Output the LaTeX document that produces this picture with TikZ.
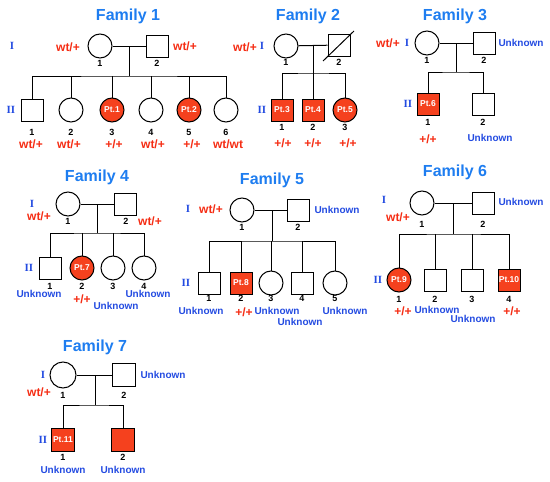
\documentclass[tikz,border=0pt]{standalone}
\usepackage{fontspec}
\setmainfont{Liberation Sans}
\newfontfamily\gennumfont{Liberation Serif}
\definecolor{titleblue}{RGB}{30,125,240}
\definecolor{ublue}{RGB}{35,75,225}
\definecolor{gred}{RGB}{245,45,20}
\definecolor{affred}{RGB}{245,65,30}
\tikzset{
  fem/.style={circle, draw, line width=1pt, minimum size=24pt, inner sep=0pt},
  mal/.style={rectangle, draw, line width=1pt, minimum size=22pt, inner sep=0pt},
  aff/.style={fill=affred, text=white, font=\bfseries\fontsize{8.5}{9}\selectfont},
  ttl/.style={font=\bfseries\fontsize{16}{18}\selectfont, text=titleblue},
  geno/.style={font=\bfseries\fontsize{12}{13}\selectfont, text=gred},
  unk/.style={font=\bfseries\fontsize{10}{11}\selectfont, text=ublue},
  num/.style={font=\bfseries\fontsize{9}{10}\selectfont},
  gen/.style={font=\gennumfont\bfseries\fontsize{11}{12}\selectfont, text=ublue},
  ln/.style={line width=1pt}
}
\begin{document}
\begin{tikzpicture}[x=1pt,y=-1pt]
\useasboundingbox (0,0) rectangle (550,482);
% ================= Family 1
\node[ttl] (t1) at (128,16) {Family 1};
\node[gen] (g1a) at (12,46) {I};
\node[gen] (g1b) at (11,110) {II};
\node[fem] (f1a) at (100,46) {};
\node[mal] (f1b) at (157,46) {};
\node[geno] (f1ag) at (68,47) {wt/+};
\node[geno] (f1bg) at (185,46) {wt/+};
\node[num] (f1an) at (100,63) {1};
\node[num] (f1bn) at (157,63) {2};
\coordinate (f1d) at (129,46);
\coordinate (f1s) at (129,76);
\node[mal] (f1c1) at (32,110) {};
\node[fem] (f1c2) at (71,110) {};
\node[fem,aff] (f1c3) at (112,110) {Pt.1};
\node[fem] (f1c4) at (151,110) {};
\node[fem,aff] (f1c5) at (189,110) {Pt.2};
\node[fem] (f1c6) at (226,110) {};
\draw[ln] (f1a) -- (f1b);
\draw[ln] (f1d) -- (f1s);
\draw[ln] (f1c1.north) |- (f1s) -| (f1c6.north);
\foreach \c in {f1c2,f1c3,f1c4,f1c5} \draw[ln] (\c.north) -- (\c.north |- f1s);
\foreach \c/\n/\g/\gx in {f1c1/1/wt\slash+/31, f1c2/2/wt\slash+/69, f1c3/3/+\slash+/114, f1c4/4/wt\slash+/153, f1c5/5/+\slash+/192, f1c6/6/wt\slash wt/228}{
  \node[num] (\c n) at (\c |- 0,132) {\n};
  \node[geno] (\c g) at (\gx,144) {\g};
}
% ================= Family 2
\node[ttl] (t2) at (308,16) {Family 2};
\node[geno] (f2ag) at (245,47) {wt/+};
\node[gen] (g2a) at (262,46) {I};
\node[gen] (g2b) at (262,110) {II};
\node[fem] (f2a) at (286,46) {};
\node[mal] (f2b) at (339,45) {};
\node[num] (f2an) at (286,62) {1};
\node[num] (f2bn) at (339,62) {2};
\coordinate (f2x1) at (323,61);
\coordinate (f2x2) at (354,31);
\draw[ln] (f2x1) -- (f2x2);
\coordinate (f2d) at (313,46);
\coordinate (f2s) at (313,73);
\node[mal,aff] (f2c1) at (282,110) {Pt.3};
\node[mal,aff] (f2c2) at (313,110) {Pt.4};
\node[fem,aff] (f2c3) at (345,110) {Pt.5};
\draw[ln] (f2a) -- (f2b);
\draw[ln] (f2d) -- (f2c2);
\draw[ln] (f2c1.north) |- (f2s) -| (f2c3.north);
\foreach \c/\n/\gx in {f2c1/1/283, f2c2/2/313, f2c3/3/348}{
  \node[num] (\c n) at (\c |- 0,127) {\n};
  \node[geno] (\c g) at (\gx,143) {+/+};
}
% ================= Family 3
\node[ttl] (t3) at (455,16) {Family 3};
\node[geno] (f3ag) at (388,43) {wt/+};
\node[gen] (g3a) at (407,43) {I};
\node[gen] (g3b) at (408,104) {II};
\node[fem] (f3a) at (427,43) {};
\node[mal] (f3b) at (484,43) {};
\node[unk] (f3bu) at (521,43) {Unknown};
\node[num] (f3an) at (427,60) {1};
\node[num] (f3bn) at (484,60) {2};
\coordinate (f3d) at (456,43);
\coordinate (f3s) at (456,72);
\node[mal,aff] (f3c1) at (428,104) {Pt.6};
\node[mal] (f3c2) at (483,104) {};
\draw[ln] (f3a) -- (f3b);
\draw[ln] (f3d) -- (f3s);
\draw[ln] (f3c1.north) |- (f3s) -| (f3c2.north);
\node[num] (f3c1n) at (428,122) {1};
\node[num] (f3c2n) at (483,122) {2};
\node[geno] (f3c1g) at (428,139) {+/+};
\node[unk] (f3c2g) at (490,138) {Unknown};
% ================= Family 4
\node[ttl] (t4) at (97,177) {Family 4};
\node[gen] (g4a) at (32,204) {I};
\node[geno] (f4ag) at (39,216) {wt/+};
\node[gen] (g4b) at (29,268) {II};
\node[fem] (f4a) at (68,204) {};
\node[mal] (f4b) at (125,204) {};
\node[num] (f4an) at (68,221) {1};
\node[num] (f4bn) at (126,221) {2};
\node[geno] (f4bg) at (150,221) {wt/+};
\coordinate (f4d) at (97,204);
\coordinate (f4s) at (97,233);
\node[mal] (f4c1) at (50,268) {};
\node[fem,aff] (f4c2) at (82,268) {Pt.7};
\node[fem] (f4c3) at (113,268) {};
\node[fem] (f4c4) at (144,268) {};
\draw[ln] (f4a) -- (f4b);
\draw[ln] (f4d) -- (f4s);
\draw[ln] (f4c1.north) |- (f4s) -| (f4c4.north);
\foreach \c in {f4c2,f4c3} \draw[ln] (\c.north) -- (\c.north |- f4s);
\foreach \c/\n in {f4c1/1,f4c2/2,f4c3/3,f4c4/4} \node[num] (\c n) at (\c |- 0,286) {\n};
\node[unk] (f4c1g) at (39,294) {Unknown};
\node[geno] (f4c2g) at (82,299) {+/+};
\node[unk] (f4c3g) at (116,306) {Unknown};
\node[unk] (f4c4g) at (148,294) {Unknown};
% ================= Family 5
\node[ttl] (t5) at (272,180) {Family 5};
\node[gen] (g5a) at (188,209) {I};
\node[geno] (f5ag) at (211,209) {wt/+};
\node[gen] (g5b) at (186,283) {II};
\node[fem] (f5a) at (242,210) {};
\node[mal] (f5b) at (298,210) {};
\node[unk] (f5bu) at (337,210) {Unknown};
\node[num] (f5an) at (242,227) {1};
\node[num] (f5bn) at (298,227) {2};
\coordinate (f5d) at (272,210);
\coordinate (f5s) at (272,241);
\node[mal] (f5c1) at (209,283) {};
\node[mal,aff] (f5c2) at (241,283) {Pt.8};
\node[fem] (f5c3) at (271,283) {};
\node[mal] (f5c4) at (302,283) {};
\node[fem] (f5c5) at (335,283) {};
\draw[ln] (f5a) -- (f5b);
\draw[ln] (f5d) -- (f5s);
\draw[ln] (f5c1.north) |- (f5s) -| (f5c5.north);
\foreach \c in {f5c2,f5c3,f5c4} \draw[ln] (\c.north) -- (\c.north |- f5s);
\foreach \c/\n in {f5c1/1,f5c2/2,f5c3/3,f5c4/4,f5c5/5} \node[num] (\c n) at (\c |- 0,298) {\n};
\node[unk] (f5c1g) at (201,311) {Unknown};
\node[geno] (f5c2g) at (244,312) {+/+};
\node[unk] (f5c3g) at (277,311) {Unknown};
\node[unk] (f5c4g) at (300,322) {Unknown};
\node[unk] (f5c5g) at (345,311) {Unknown};
% ================= Family 6
\node[ttl] (t6) at (455,172) {Family 6};
\node[gen] (g6a) at (384,200) {I};
\node[geno] (f6ag) at (398,217) {wt/+};
\node[gen] (g6b) at (378,280) {II};
\node[fem] (f6a) at (422,203) {};
\node[mal] (f6b) at (483,203) {};
\node[unk] (f6bu) at (521,202) {Unknown};
\node[num] (f6an) at (422,224) {1};
\node[num] (f6bn) at (483,224) {2};
\coordinate (f6d) at (453,203);
\coordinate (f6s) at (453,234);
\node[fem,aff] (f6c1) at (399,280) {Pt.9};
\node[mal] (f6c2) at (435,280) {};
\node[mal] (f6c3) at (472,280) {};
\node[mal,aff] (f6c4) at (509,280) {Pt.10};
\draw[ln] (f6a) -- (f6b);
\draw[ln] (f6d) -- (f6s);
\draw[ln] (f6c1.north) |- (f6s) -| (f6c4.north);
\foreach \c in {f6c2,f6c3} \draw[ln] (\c.north) -- (\c.north |- f6s);
\foreach \c/\n in {f6c1/1,f6c2/2,f6c3/3,f6c4/4} \node[num] (\c n) at (\c |- 0,299) {\n};
\node[geno] (f6c1g) at (403,311) {+/+};
\node[unk] (f6c2g) at (437,310) {Unknown};
\node[unk] (f6c3g) at (473,319) {Unknown};
\node[geno] (f6c4g) at (512,311) {+/+};
% ================= Family 7
\node[ttl] (t7) at (95,347) {Family 7};
\node[gen] (g7a) at (43,375) {I};
\node[geno] (f7ag) at (39,392) {wt/+};
\node[gen] (g7b) at (43,440) {II};
\node[fem,minimum size=26pt] (f7a) at (63,375) {};
\node[mal,minimum size=23pt] (f7b) at (124,375) {};
\node[unk] (f7bu) at (163,375) {Unknown};
\node[num] (f7an) at (63,395) {1};
\node[num] (f7bn) at (124,395) {2};
\coordinate (f7d) at (95,375);
\coordinate (f7s) at (95,405);
\node[mal,aff,minimum size=23pt] (f7c1) at (63,440) {Pt.11};
\node[mal,aff,minimum size=23pt] (f7c2) at (123,440) {};
\draw[ln] (f7a) -- (f7b);
\draw[ln] (f7d) -- (f7s);
\draw[ln] (f7c1.north) |- (f7s) -| (f7c2.north);
\node[num] (f7c1n) at (63,457) {1};
\node[num] (f7c2n) at (123,457) {2};
\node[unk] (f7c1g) at (63,470) {Unknown};
\node[unk] (f7c2g) at (123,470) {Unknown};
\end{tikzpicture}
\end{document}
